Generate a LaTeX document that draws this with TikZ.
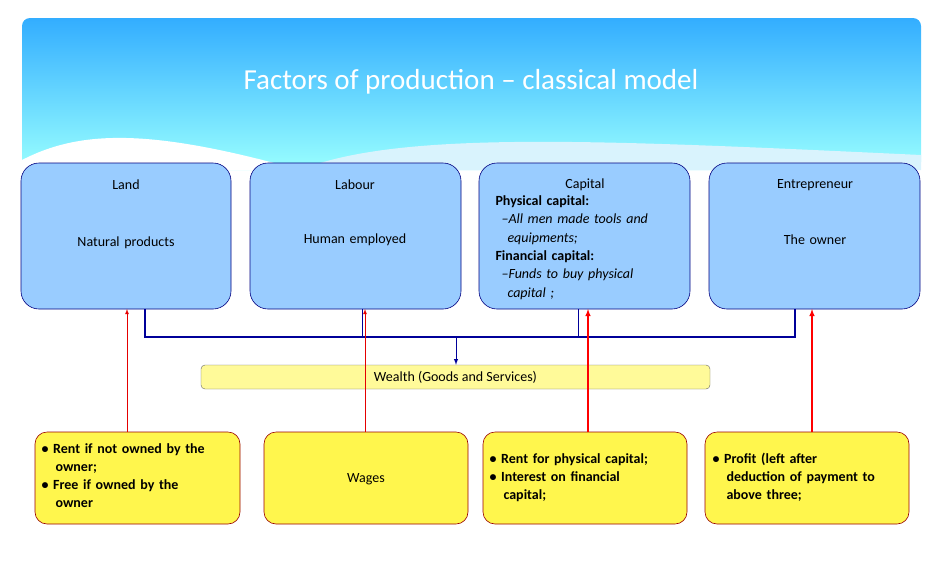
\documentclass[tikz,border=0pt]{standalone}
\usepackage{fontspec}
\setmainfont{Carlito}
\definecolor{tb}{HTML}{99CCFF}
\begin{document}
\begin{tikzpicture}[x=1pt,y=-1pt,
 top/.style={draw=blue!50!black,fill=tb,rounded corners=18pt,line width=0.6pt},
 bot/.style={draw=red!60!black,fill=yellow!70,rounded corners=12pt,line width=0.6pt},
 tl/.style={font=\fontsize{14}{16}\selectfont,text width=200pt,align=center},
 bl/.style={font=\fontsize{14}{18}\selectfont\bfseries,text width=200pt,align=left},
 conn/.style={draw=blue!60!black,line width=2pt},
 up/.style={->,>=latex}]
\useasboundingbox (0,0) rectangle (943,576);
\shade[top color=cyan!60!blue!80,bottom color=cyan!40!white,rounded corners=8pt] (22,18) rectangle (921,170);
\fill[white] (22,160) .. controls (80,130) and (150,128) .. (300,170) -- (22,170) -- cycle;
\fill[cyan!15] (300,170) .. controls (400,130) and (600,140) .. (921,155) -- (921,170) -- cycle;
\node[text=white,font=\fontsize{29}{32}\selectfont] (title) at (471,82) {Factors of production -- classical model};
\draw[top] (21,163) rectangle (231,309);
\draw[top] (250,163) rectangle (461,309);
\draw[top] (479,163) rectangle (690,309);
\draw[top] (709,163) rectangle (920,309);
\node[tl] (land) at (126,185) {Land};
\node[tl] (landb) at (126,243) {Natural products};
\node[tl] (lab) at (355,185) {Labour};
\node[tl] (labb) at (355,240) {Human employed};
\node[tl] (cap) at (585,185) {Capital};
\node[font=\fontsize{14}{18.4}\selectfont,text width=200pt,align=left,anchor=north west] (capb) at (492,192) {\textbf{Physical capital:}\\\hspace*{6pt}\textit{--All men made tools and}\\\hspace*{12pt}\textit{equipments;}\\\textbf{Financial capital:}\\\hspace*{6pt}\textit{--Funds to buy physical}\\\hspace*{12pt}\textit{capital ;}};
\node[tl] (ent) at (815,185) {Entrepreneur};
\node[tl] (entb) at (815,240) {The owner};
\coordinate (c1) at (145,309); \coordinate (c1b) at (145,337);
\coordinate (c2) at (362,309); \coordinate (c2b) at (362,337);
\coordinate (c3) at (578,309); \coordinate (c3b) at (578,337);
\coordinate (c4) at (795,309); \coordinate (c4b) at (795,337);
\draw[conn] (c1) -- (c1b) -- (c4b) -- (c4);
\draw[conn,line width=1pt] (c2) -- (c2b) (c3) -- (c3b);
\node[draw=black!60,fill=yellow!40,rounded corners=4pt,minimum width=509pt,minimum height=24pt,font=\fontsize{14}{16}\selectfont] (w) at (455.5,377) {Wealth (Goods and Services)};
\coordinate (wa) at (456,337);
\draw[draw=blue!60!black,line width=1pt,->,>=latex] (wa) -- (w.north -| wa);
\draw[bot] (35,432) rectangle (240,524);
\draw[bot] (264,432) rectangle (468,524);
\draw[bot] (483,432) rectangle (687,524);
\draw[bot] (705,432) rectangle (909,524);
\node[bl,anchor=north west] (b1) at (38,440) {\textbullet\ Rent if not owned by the\\\hspace*{14pt}owner;\\\textbullet\ Free if owned by the\\\hspace*{14pt}owner};
\node[font=\fontsize{14}{16}\selectfont] (b2) at (366,479) {Wages};
\node[bl,anchor=north west] (b3) at (486,450) {\textbullet\ Rent for physical capital;\\\textbullet\ Interest on financial\\\hspace*{14pt}capital;};
\node[bl,anchor=north west] (b4) at (709,450) {\textbullet\ Profit (left after\\\hspace*{14pt}deduction of payment to\\\hspace*{14pt}above three;};
\coordinate (r1a) at (127,432); \coordinate (r1b) at (127,309);
\coordinate (r2a) at (365,432); \coordinate (r2b) at (365,309);
\coordinate (r3a) at (588,432); \coordinate (r3b) at (588,309);
\coordinate (r4a) at (812,432); \coordinate (r4b) at (812,309);
\draw[up,draw=red!90!black,line width=0.8pt] (r1a) -- (r1b);
\draw[up,draw=red!90!black,line width=0.8pt] (r2a) -- (r2b);
\draw[up,draw=red,line width=1.4pt] (r3a) -- (r3b);
\draw[up,draw=red,line width=1.4pt] (r4a) -- (r4b);
\end{tikzpicture}
\end{document}
